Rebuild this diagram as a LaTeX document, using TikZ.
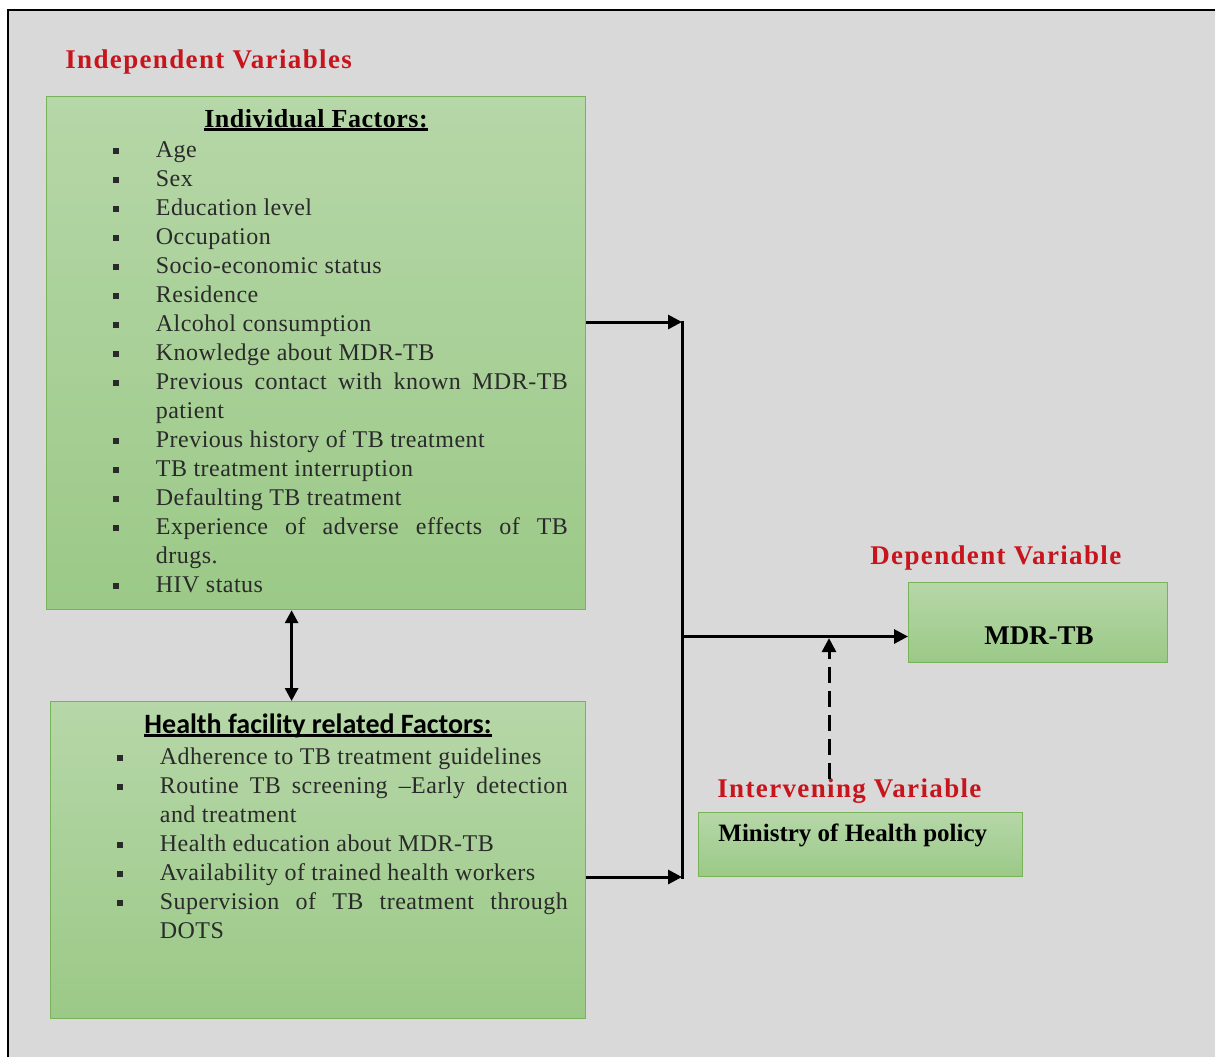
\documentclass[tikz,border=0pt]{standalone}
\usepackage{fontspec}
\setmainfont{Liberation Serif}
\newfontfamily\bodyfont[LetterSpace=2]{Liberation Serif}
\newfontfamily\headfont[LetterSpace=5]{Liberation Serif}
\newfontfamily\calfont{Carlito}
\usetikzlibrary{arrows.meta}

\definecolor{panelgrey}{HTML}{D9D9D9}
\definecolor{boxtop}{HTML}{B6D7A8}
\definecolor{boxbottom}{HTML}{9BC987}
\definecolor{boxline}{HTML}{78B35A}
\definecolor{headred}{HTML}{C8141C}
\definecolor{bodygrey}{HTML}{2A2A2A}

% one bullet line of a factor list
\newcommand\factoritem[1]{\par\noindent\hangindent=21pt\hangafter=1\makebox[21pt][l]{\hspace{-0.25pt}\rule[1.5pt]{3pt}{3pt}}\strut#1\par}
% heading with a thick underline that ignores descenders
\newcommand\barunder[1]{\setbox0\hbox{#1}\rlap{\rule[-1.8pt]{\wd0}{1.1pt}}\box0}
\newcommand\nohyph{\hyphenpenalty=10000 \exhyphenpenalty=10000 }

\begin{document}
\begin{tikzpicture}[x=0.5pt,y=-0.5pt,
	factorbox/.style={draw=boxline,line width=0.6pt,top color=boxtop,bottom color=boxbottom,anchor=north west,inner sep=0pt},
	heading/.style={anchor=base west,inner sep=0pt,text=headred,font={\headfont\bfseries\fontsize{13.5}{15}\selectfont}},
	factorlist/.style={anchor=north west,inner sep=0pt,align=justify,text=bodygrey,font={\bodyfont\fontsize{12}{14.5}\selectfont}},
	link/.style={line width=1.5pt,-{Triangle[length=7pt,width=7pt]}}]
	\useasboundingbox (0,0) rectangle (1215,1057);
	\fill[white] (0,0) rectangle (1215,1057);
	\fill[panelgrey] (8,9.5) rectangle (1215,1057);
	\draw[line width=1pt] (8,1057) -- (8,9.5) -- (1215,9.5);

	% independent variables
	\node[heading] (indeptitle) at (65,68) {Independent Variables};
	\node[factorbox,minimum width=269.5pt,minimum height=256.5pt] (indiv) at (46,96) {};
	\node[anchor=base,inner sep=0pt,font={\bodyfont\bfseries\fontsize{13}{15}\selectfont}] (indivhead) at (316,127) {\barunder{Individual Factors:}};
	\node[factorlist,text width=227pt] (indivlist) at (113.5,128) {\nohyph
		\factoritem{Age}
		\factoritem{Sex}
		\factoritem{Education level}
		\factoritem{Occupation}
		\factoritem{Socio-economic status}
		\factoritem{Residence}
		\factoritem{Alcohol consumption}
		\factoritem{Knowledge about MDR-TB}
		\factoritem{Previous contact with known \mbox{MDR-TB} patient}
		\factoritem{Previous history of TB treatment}
		\factoritem{TB treatment interruption}
		\factoritem{Defaulting TB treatment}
		\factoritem{Experience of adverse effects of TB\linebreak drugs.}
		\factoritem{HIV status}};

	\node[factorbox,minimum width=267.5pt,minimum height=158.5pt] (health) at (50,701) {};
	\node[anchor=base,inner sep=0pt,font={\calfont\bfseries\fontsize{14}{16}\selectfont}] (healthhead) at (318,733) {\barunder{Health facility related Factors:}};
	\node[factorlist,text width=225pt] (healthlist) at (117.5,735) {\nohyph
		\factoritem{Adherence to TB treatment guidelines}
		\factoritem{Routine TB screening –Early detection and treatment}
		\factoritem{Health education about \mbox{MDR-TB}}
		\factoritem{Availability of trained health workers}
		\factoritem{Supervision of TB treatment through DOTS}};

	% dependent and intervening variables
	\node[heading] (deptitle) at (870,564) {Dependent Variable};
	\node[factorbox,minimum width=129.5pt,minimum height=40pt] (mdrtb) at (908,582) {};
	\node[inner sep=0pt,font={\bfseries\fontsize{13.5}{16}\selectfont}] (mdrtext) at (1039,636) {MDR-TB};
	\node[heading] (intertitle) at (717,797) {Intervening Variable};
	\node[factorbox,minimum width=162pt,minimum height=32pt] (ministry) at (698,812) {};
	\node[anchor=base west,inner sep=0pt,font={\bfseries\fontsize{12.5}{15}\selectfont}] (ministrytext) at (718,841) {Ministry of Health policy};

	% connectors
	\coordinate (jtop) at (682,322);
	\coordinate (jbot) at (682,877);
	\coordinate (jmid) at (682,636.5);
	\coordinate (ptail) at (829,779);
	\draw[link] (indiv.east |- jtop) -- (jtop);
	\draw[link] (health.east |- jbot) -- (jbot);
	\draw[line width=1.5pt] ([yshift=.75pt]jtop) -- ([yshift=-.75pt]jbot);
	\draw[link] (jmid) -- (jmid -| mdrtb.west);
	\draw[link,dash pattern=on 8pt off 4pt,shorten >=0.8pt] (ptail) -- (ptail |- jmid);
	\draw[link,{Triangle[length=6.5pt,width=6.5pt]}-{Triangle[length=6.5pt,width=6.5pt]}] ([xshift=-12.25pt]indiv.south) -- ([xshift=-12.25pt]indiv.south |- health.north);
\end{tikzpicture}
\end{document}
